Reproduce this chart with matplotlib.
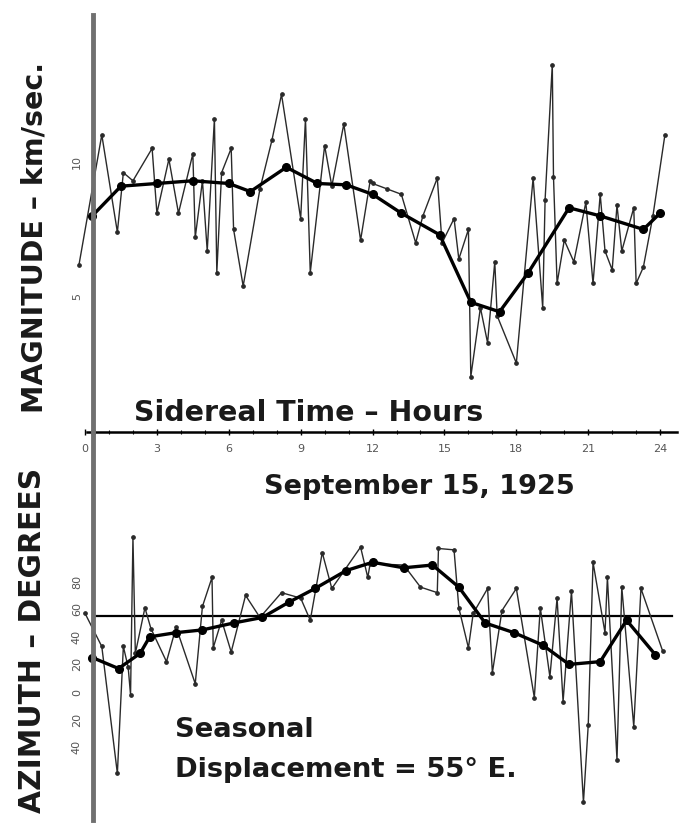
import matplotlib.pyplot as plt

plt.rcParams['font.family'] = ['DejaVu Sans']

# sidereal hour -> magnitude (km/sec), single readings
mag_hours = [-0.25, 0.7, 1.35, 1.6, 2.0, 2.8, 3.0, 3.5, 3.9, 4.5, 4.6, 4.9, 5.1, 5.4, 5.5,
             5.7, 6.1, 6.2, 6.6, 7.3, 7.8, 8.2, 9.0, 9.2, 9.4, 10.0, 10.3, 10.8, 11.5, 11.9,
             12.0, 12.6, 13.2, 13.8, 14.1, 14.7, 14.9, 15.4, 15.6, 16.0, 16.1, 16.5, 16.8,
             17.1, 17.2, 18.0, 18.7, 19.1, 19.2, 19.5, 19.55, 19.7, 20.0, 20.4, 20.9, 21.2,
             21.5, 21.7, 22.0, 22.2, 22.4, 22.9, 23.0, 23.3, 23.7, 24.2]
mag_values = [6.2, 11.0, 7.4, 9.6, 9.3, 10.5, 8.1, 10.1, 8.1, 10.3, 7.2, 9.3, 6.7, 11.6, 5.9,
              9.6, 10.5, 7.5, 5.4, 9.0, 10.8, 12.5, 7.9, 11.6, 5.9, 10.6, 9.1, 11.4, 7.1, 9.3,
              9.2, 9.0, 8.8, 7.0, 8.0, 9.4, 7.0, 7.9, 6.4, 7.5, 2.05, 4.6, 3.3,
              6.3, 4.3, 2.55, 9.4, 4.6, 8.6, 13.6, 9.45, 5.5, 7.1, 6.3, 8.5, 5.5,
              8.8, 6.7, 6.0, 8.4, 6.7, 8.3, 5.5, 6.1, 8.0, 11.0]

# smoothed magnitude curve
mag_mean_hours = [0.3, 1.5, 3.0, 4.5, 6.0, 6.9, 8.4, 9.7, 10.9, 12.0, 13.2, 14.8, 16.1,
                  17.3, 18.5, 20.2, 21.5, 23.3, 24.0]
mag_mean_values = [8.0, 9.1, 9.2, 9.3, 9.2, 8.9, 9.8, 9.2, 9.15, 8.8, 8.1, 7.3, 4.8,
                   4.45, 5.9, 8.3, 8.0, 7.5, 8.1]

# sidereal hour -> azimuth (degrees), single readings
az_hours = [0.0, 0.7, 1.35, 1.6, 1.8, 1.9, 2.0, 2.1, 2.5, 2.75, 3.4, 3.8, 4.6, 4.9, 5.3,
            5.35, 5.7, 6.1, 6.7, 7.3, 8.2, 9.0, 9.4, 9.9, 10.3, 11.5, 11.8, 11.9, 13.3,
            14.0, 14.7, 14.75, 15.4, 15.6, 16.0, 16.2, 16.8, 17.0, 17.4, 18.0, 18.75,
            19.0, 19.4, 19.7, 19.95, 20.3, 20.8, 21.0, 21.2, 21.7, 21.8, 22.2, 22.4,
            22.9, 23.2, 24.1]
az_values = [57, 33, -59, 33, 18, -2, 112, 28, 61, 46, 22, 47, 6, 62, 83,
             32, 52, 29, 70, 54, 72, 68, 52, 101, 75, 105, 83, 93, 92,
             76, 72, 104, 103, 61, 32, 57, 75, 14, 59, 75, -4,
             61, 11, 68, -7, 73, -80, -24, 94, 43, 83, -49, 76,
             -25, 75, 30]

# smoothed azimuth curve
az_mean_hours = [0.3, 1.4, 2.3, 2.7, 3.8, 4.9, 6.2, 7.4, 8.5, 9.6, 10.9, 12.0, 13.3, 14.5,
                 15.6, 16.7, 17.9, 19.1, 20.2, 21.5, 22.6, 23.8]
az_mean_values = [25, 17, 28, 40, 43, 45, 50, 54, 65, 75, 88, 94, 90, 92,
                  76, 50, 43, 34, 20, 22, 52, 27]

time_ticks = [0, 3, 6, 9, 12, 15, 18, 21, 24]
mag_ticks = [5, 10]
az_ticks = [80, 60, 40, 20, 0, -20, -40]
az_tick_labels = ['80', '60', '40', '20', '0', '20', '40']
seasonal = 55

fig = plt.figure(figsize=(6.86, 8.25), dpi=100)
ax1 = fig.add_axes([0, 0.4764, 1, 0.5055])
ax2 = fig.add_axes([0, 0.00606, 1, 0.4703])

xlim = (-3.548, 25.08)
axis_x = 0.33
for ax in (ax1, ax2):
    ax.set_xlim(*xlim)
    ax.patch.set_alpha(0)
    ax.spines['top'].set_visible(False)
    ax.spines['right'].set_visible(False)
    ax.spines['left'].set_position(('data', axis_x))
    ax.spines['left'].set_color('#707070')
    ax.spines['left'].set_linewidth(3.5)

# magnitude
ax1.set_ylim(0, 15.44)
ax1.plot(mag_hours, mag_values, color='#2a2a2a', lw=1.0, marker='o', ms=2.4)
ax1.plot(mag_mean_hours, mag_mean_values, color='black', lw=2.4, marker='o', ms=5.5)
ax1.spines['bottom'].set_position(('data', 0))
ax1.spines['bottom'].set_bounds(0.1, 24.7)
ax1.spines['bottom'].set_linewidth(1.8)
ax1.set_xticks(time_ticks)
ax1.set_xticks(range(0, 25), minor=True)
ax1.tick_params(axis='x', which='major', direction='inout', length=5, width=1,
                labelsize=8, labelcolor='#555555', pad=6)
ax1.tick_params(axis='x', which='minor', direction='inout', length=3, width=0.8)
ax1.set_yticks(mag_ticks)
ax1.tick_params(axis='y', length=0, labelsize=8, labelcolor='#555555', pad=8,
                labelrotation=90)
for lab in ax1.get_yticklabels():
    lab.set_verticalalignment('center')

# azimuth
ax2.set_ylim(-92.75, 188.4)
ax2.axhline(seasonal, xmin=(axis_x - xlim[0]) / (xlim[1] - xlim[0]),
            xmax=(24.5 - xlim[0]) / (xlim[1] - xlim[0]), color='black', lw=1.6)
ax2.plot(az_hours, az_values, color='#2a2a2a', lw=1.0, marker='o', ms=2.4)
ax2.plot(az_mean_hours, az_mean_values, color='black', lw=2.4, marker='o', ms=5.5)
ax2.spines['bottom'].set_visible(False)
ax2.set_xticks([])
ax2.set_yticks(az_ticks)
ax2.set_yticklabels(az_tick_labels)
ax2.tick_params(axis='y', length=0, labelsize=8, labelcolor='#555555', pad=8,
                labelrotation=90)
for lab in ax2.get_yticklabels():
    lab.set_verticalalignment('center')

big = dict(fontweight='bold', color='#1a1a1a')
fig.text(0.450, 0.4994, 'Sidereal Time – Hours', ha='center', va='center', fontsize=20.5, **big)
fig.text(0.612, 0.4097, 'September 15, 1925', ha='center', va='center', fontsize=19.5, **big)
fig.text(0.0496, 0.7127, 'MAGNITUDE – km/sec.', ha='center', va='center', rotation=90,
         fontsize=20.5, **big)
fig.text(0.048, 0.2242, 'AZIMUTH – DEGREES', ha='center', va='center', rotation=90,
         fontsize=21.4, **big)
fig.text(0.255, 0.1152, 'Seasonal', ha='left', va='center', fontsize=19.7, **big)
fig.text(0.255, 0.0667, 'Displacement = 55° E.', ha='left', va='center', fontsize=19.7, **big)

fig.savefig('out.png', dpi=100)
